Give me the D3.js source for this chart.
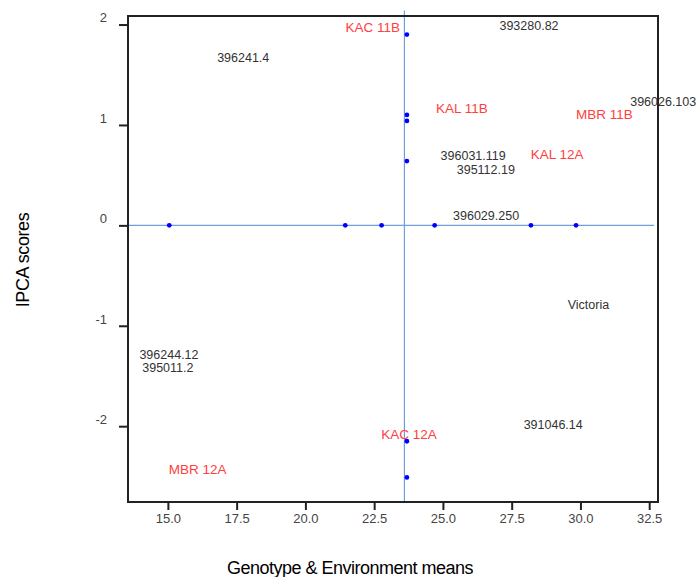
<!DOCTYPE html>
<html>
<head>
<meta charset="utf-8">
<script src="https://cdn.jsdelivr.net/npm/d3@7"></script>
<style>
  html, body { margin: 0; padding: 0; background: #fff; }
  svg { display: block; font-family: "Liberation Sans", Arial, sans-serif; }
</style>
</head>
<body>
<svg id="chart" width="699" height="577"></svg>
<script>
// ---- data ----
const pointX = [15.05, 21.45, 22.77, 24.70, 28.20, 29.84, 23.69, 23.69, 23.69, 23.69, 23.69, 23.69];
const pointY = [0, 0, 0, 0, 0, 0, 1.90, 1.10, 1.04, 0.64, -2.15, -2.51];

const genotypeNames = ["396241.4", "393280.82", "396026.103", "396031.119", "395112.19", "396029.250", "Victoria", "391046.14", "396244.12", "395011.2"];
const genotypeX = [17.74, 28.13, 33.01, 26.10, 26.56, 26.57, 30.29, 29.01, 15.04, 15.00];
const genotypeY = [1.67, 1.99, 1.23, 0.69, 0.56, 0.10, -0.79, -1.98, -1.29, -1.42];

const envNames = ["KAC 11B", "KAL 11B", "MBR 11B", "KAL 12A", "KAC 12A", "MBR 12A"];
const envX = [22.45, 25.69, 30.87, 29.15, 23.77, 16.08];
const envY = [1.97, 1.17, 1.11, 0.71, -2.08, -2.43];

const xTicks = [15.0, 17.5, 20.0, 22.5, 25.0, 27.5, 30.0, 32.5];
const yTicks = [-2, -1, 0, 1, 2];
const grandMean = 23.6;

const xTitle = "Genotype & Environment means";
const yTitle = "IPCA scores";

// ---- chart ----
const svg = d3.select("#chart");
const plotL = 128, plotR = 658, plotT = 16, plotB = 502;

const x = d3.scaleLinear().domain([13.55, 32.82]).range([plotL, plotR]);
const y = d3.scaleLinear().domain([-2.755, 2.085]).range([plotB, plotT]);

// reference lines
svg.append("line")
  .attr("x1", x(13.55)).attr("x2", x(32.68))
  .attr("y1", y(0)).attr("y2", y(0))
  .attr("stroke", "#6f9fe0").attr("stroke-width", 1.2);
svg.append("line")
  .attr("x1", x(grandMean)).attr("x2", x(grandMean))
  .attr("y1", y(2.14)).attr("y2", y(-2.755))
  .attr("stroke", "#6f9fe0").attr("stroke-width", 1.2);

// frame
svg.append("rect")
  .attr("x", plotL).attr("y", plotT)
  .attr("width", plotR - plotL).attr("height", plotB - plotT)
  .attr("fill", "none").attr("stroke", "#222").attr("stroke-width", 2);

// axes
const xAxis = svg.append("g")
  .attr("transform", `translate(0,${plotB})`)
  .call(d3.axisBottom(x).tickValues(xTicks).tickFormat(d3.format(".1f")).tickSize(8).tickPadding(4));
const yAxis = svg.append("g")
  .attr("transform", `translate(${plotL},0)`)
  .call(d3.axisLeft(y).tickValues(yTicks).tickFormat(d => String(d)).tickSize(9).tickPadding(12));

[xAxis, yAxis].forEach(g => {
  g.select(".domain").remove();
  g.selectAll(".tick line").attr("stroke", "#222").attr("stroke-width", 2);
  g.selectAll(".tick text")
    .attr("fill", "#444")
    .style("font-size", "13px")
    .style("font-family", "'Liberation Sans', Arial, sans-serif");
});
yAxis.selectAll(".tick text").attr("dy", "-0.2em");

// points
svg.append("g").selectAll("circle")
  .data(pointX.map((d, i) => [d, pointY[i]]))
  .join("circle")
  .attr("cx", d => x(d[0]))
  .attr("cy", d => y(d[1]))
  .attr("r", 2.4)
  .attr("fill", "#0000ff");

// genotype labels
svg.append("g").selectAll("text")
  .data(genotypeNames.map((n, i) => ({ n, x: genotypeX[i], y: genotypeY[i] })))
  .join("text")
  .attr("x", d => x(d.x))
  .attr("y", d => y(d.y))
  .attr("dy", "0.35em")
  .attr("text-anchor", "middle")
  .attr("fill", "#333")
  .style("font-size", "12.5px")
  .text(d => d.n);

// environment labels
svg.append("g").selectAll("text")
  .data(envNames.map((n, i) => ({ n, x: envX[i], y: envY[i] })))
  .join("text")
  .attr("x", d => x(d.x))
  .attr("y", d => y(d.y))
  .attr("dy", "0.35em")
  .attr("text-anchor", "middle")
  .attr("fill", "#ff4040")
  .style("font-size", "13.5px")
  .text(d => d.n);

// axis titles
svg.append("text")
  .attr("x", 350).attr("y", 574)
  .attr("text-anchor", "middle")
  .attr("fill", "#000")
  .style("font-size", "18px")
  .style("letter-spacing", "-0.5px")
  .text(xTitle);

svg.append("text")
  .attr("transform", "translate(29,260) rotate(-90)")
  .attr("text-anchor", "middle")
  .attr("fill", "#000")
  .style("font-size", "18px")
  .style("letter-spacing", "-0.4px")
  .text(yTitle);
</script>
</body>
</html>
